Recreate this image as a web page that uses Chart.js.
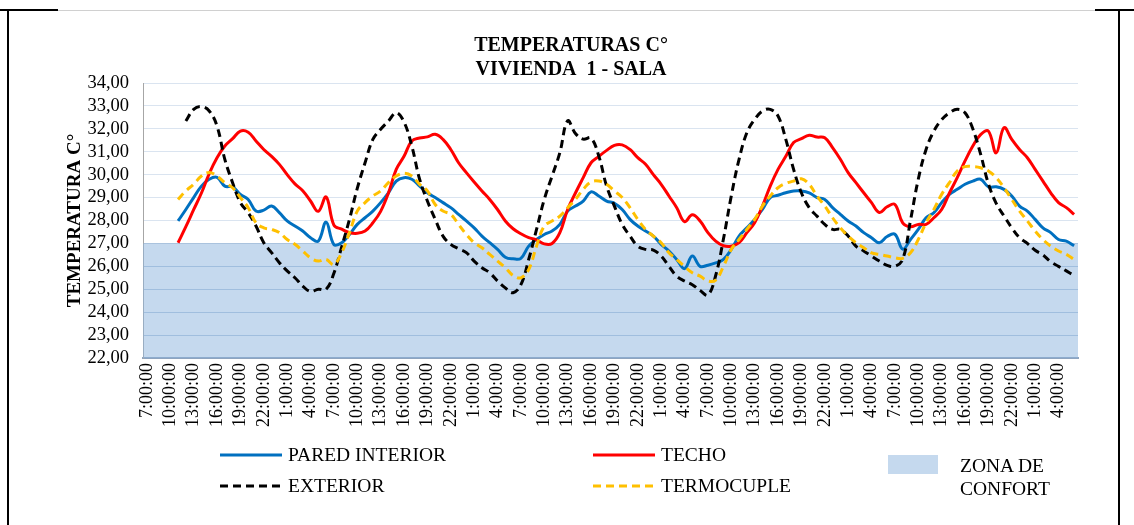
<!DOCTYPE html>
<html lang="es">
<head>
<meta charset="utf-8">
<title>Temperaturas C° - Vivienda 1 - Sala</title>
<script src="https://cdn.jsdelivr.net/npm/chart.js@4.4.1/dist/chart.umd.min.js"></script>
<style>
  html, body { margin: 0; padding: 0; background: #fff; }
  body { width: 1134px; height: 525px; position: relative; overflow: hidden;
         font-family: 'Liberation Serif', 'Times New Roman', serif; }
  #wrap { position: absolute; left: 0; top: 0; width: 1134px; height: 525px; }
  .frame { position: absolute; background: #000; }
  .item { position: absolute; display: flex; align-items: center; height: 24px;
          font-size: 19.5px; color: #000; white-space: nowrap; }
  .item canvas { margin-right: 6px; }
  .zona-box { position: absolute; width: 50px; height: 19px; }
  .zona-txt { position: absolute; width: 110px; font-size: 19.5px; line-height: 23px; color: #000; }
</style>
</head>
<body>
<!-- table border around the chart picture -->
<div class="frame" style="left:0;top:9px;width:58px;height:2px"></div>
<div class="frame" style="left:1095px;top:9px;width:39px;height:2px"></div>
<div class="frame" style="left:58px;top:10px;width:1037px;height:1px;background:#d0d0d0"></div>
<div class="frame" style="left:7px;top:9px;width:2px;height:516px"></div>
<div class="frame" style="left:1118px;top:9px;width:2px;height:516px"></div>

<div id="wrap"><canvas id="chart" width="1134" height="525"></canvas></div>
<div id="legend"></div>

<script>
// hourly readings, 7:00 day 1 to 6:00 day 6
const horas = ['7:00:00','8:00:00','9:00:00','10:00:00','11:00:00','12:00:00','13:00:00','14:00:00',
  '15:00:00','16:00:00','17:00:00','18:00:00','19:00:00','20:00:00','21:00:00','22:00:00',
  '23:00:00','0:00:00','1:00:00','2:00:00','3:00:00','4:00:00','5:00:00','6:00:00'];
const dias = 5;
const categorias = [];
for (let d = 0; d < dias; d++) horas.forEach(h => categorias.push(h));

const paredInterior = [null, null, null, null,
  27.98, 28.48, 29.00, 29.50, 29.80, 29.88, 29.50, 29.47, 29.14, 28.92, 28.41, 28.45, 28.63, 28.34, 27.98, 27.76,
  27.54, 27.25, 27.10, 27.93, 26.95, 27.03, 27.39, 27.83, 28.12, 28.41, 28.78, 29.21, 29.72, 29.87, 29.80, 29.50,
  29.21, 29.00, 28.78, 28.56, 28.27, 27.98, 27.68, 27.32, 27.03, 26.74, 26.40, 26.33, 26.35, 26.88, 27.17, 27.39,
  27.54, 27.83, 28.41, 28.63, 28.85, 29.25, 29.07, 28.85, 28.75, 28.48, 28.05, 27.76, 27.54, 27.32, 26.96, 26.67,
  26.30, 25.90, 26.45, 26.00, 26.05, 26.15, 26.30, 26.74, 27.32, 27.68, 28.05, 28.48, 29.00, 29.10, 29.21, 29.29,
  29.29, 29.21, 29.00, 28.92, 28.56, 28.27, 27.98, 27.76, 27.47, 27.25, 27.03, 27.30, 27.40, 26.75, 27.17, 27.61,
  28.12, 28.34, 28.78, 29.14, 29.36, 29.58, 29.72, 29.80, 29.47, 29.47, 29.36, 29.07, 28.63, 28.41, 28.05, 27.68,
  27.47, 27.17, 27.10, 26.90];

const techo = [null, null, null, null,
  27.03, 27.73, 28.47, 29.20, 30.05, 30.74, 31.25, 31.57, 31.90, 31.85, 31.47, 31.10, 30.80, 30.45, 30.00, 29.60,
  29.30, 28.85, 28.40, 29.03, 27.80, 27.62, 27.47, 27.44, 27.54, 27.90, 28.40, 29.20, 30.23, 30.80, 31.47, 31.60,
  31.65, 31.76, 31.54, 31.10, 30.52, 30.09, 29.68, 29.29, 28.92, 28.48, 27.98, 27.64, 27.42, 27.25, 27.15, 26.98,
  27.00, 27.47, 28.48, 29.20, 29.87, 30.52, 30.80, 31.06, 31.28, 31.30, 31.10, 30.74, 30.45, 30.00, 29.58, 29.07,
  28.56, 27.95, 28.25, 27.98, 27.47, 27.10, 26.90, 26.88, 27.03, 27.47, 27.90, 28.63, 29.50, 30.23, 30.80, 31.40,
  31.57, 31.72, 31.64, 31.61, 31.18, 30.67, 30.09, 29.65, 29.21, 28.78, 28.35, 28.60, 28.70, 27.90, 27.73, 27.83,
  27.83, 28.12, 28.48, 29.20, 29.87, 30.60, 31.25, 31.75, 31.90, 30.95, 32.05, 31.54, 31.10, 30.74, 30.23, 29.72,
  29.21, 28.78, 28.56, 28.27];

const exterior = [null, null, null, null, null,
  32.34, 32.85, 32.97, 32.78, 32.12, 30.67, 29.65, 28.78, 28.34, 27.76, 27.03, 26.60, 26.16, 25.80, 25.50,
  25.14, 24.90, 25.00, 25.00, 25.70, 26.85, 28.05, 29.40, 30.52, 31.54, 31.98, 32.34, 32.70, 32.30, 31.25,
  29.80, 28.85, 28.05, 27.32, 26.96, 26.77, 26.60, 26.23, 25.94, 25.72, 25.36, 25.06, 24.85, 25.20, 26.30,
  27.60, 28.92, 29.94, 30.96, 32.35, 31.80, 31.55, 31.60, 30.81, 29.50, 28.63, 27.83, 27.32, 26.88, 26.74,
  26.71, 26.45, 26.00, 25.57, 25.36, 25.20, 24.95, 24.75, 25.60, 27.20, 29.07, 30.67, 31.83, 32.41, 32.78,
  32.85, 32.56, 31.54, 30.23, 29.21, 28.56, 28.19, 27.83, 27.61, 27.61, 27.32, 26.88, 26.67, 26.45, 26.23,
  26.04, 26.00, 26.30, 28.00, 29.80, 31.10, 31.90, 32.40, 32.70, 32.85, 32.70, 32.00, 30.90, 29.60, 28.75,
  28.20, 27.68, 27.25, 27.00, 26.70, 26.50, 26.20, 26.00, 25.80, 25.60];

const termocuple = [null, null, null, null,
  28.92, 29.29, 29.58, 29.94, 30.09, 29.94, 29.65, 29.43, 29.00, 28.56, 27.90, 27.68, 27.61, 27.47, 27.17, 26.96,
  26.67, 26.37, 26.23, 26.30, 26.08, 26.60, 27.47, 28.41, 28.78, 29.07, 29.29, 29.65, 29.94, 30.06, 29.94, 29.58,
  29.29, 28.70, 28.41, 28.27, 27.83, 27.39, 27.03, 26.81, 26.52, 26.23, 25.94, 25.60, 25.50, 25.86, 26.88, 27.76,
  27.98, 28.19, 28.56, 28.92, 29.36, 29.68, 29.72, 29.58, 29.29, 29.00, 28.56, 28.05, 27.61, 27.32, 27.03, 26.59,
  26.30, 26.00, 25.72, 25.57, 25.36, 25.40, 26.00, 26.74, 27.17, 27.61, 28.05, 28.63, 29.07, 29.43, 29.62, 29.72,
  29.82, 29.58, 29.07, 28.63, 28.12, 27.68, 27.32, 27.03, 26.81, 26.59, 26.52, 26.45, 26.37, 26.35, 26.59, 27.17,
  27.90, 28.48, 29.14, 29.65, 30.16, 30.35, 30.35, 30.30, 30.16, 29.87, 29.43, 28.92, 28.41, 27.98, 27.54, 27.17,
  26.88, 26.67, 26.52, 26.30];

// comfort band: up to 27 °C, across the whole period
const zonaConfort = [27, 27];

const fuente = "'Liberation Serif', 'Times New Roman', serif";
const zonaColor = 'rgba(139, 179, 221, 0.5)';

const ctx = document.getElementById('chart').getContext('2d');
const chart = new Chart(ctx, {
    data: {
        labels: categorias,
        datasets: [
            { type: 'line', label: 'PARED INTERIOR', data: paredInterior, borderColor: '#0070c0',
              borderWidth: 3, pointRadius: 0, tension: 0.4, order: 4 },
            { type: 'line', label: 'TECHO', data: techo, borderColor: '#ff0000',
              borderWidth: 3, pointRadius: 0, tension: 0.4, order: 3 },
            { type: 'line', label: 'EXTERIOR', data: exterior, borderColor: '#000000', borderDash: [8, 5],
              borderWidth: 3, pointRadius: 0, tension: 0.4, order: 2 },
            { type: 'line', label: 'TERMOCUPLE', data: termocuple, borderColor: '#ffc000', borderDash: [8, 5],
              borderWidth: 3, pointRadius: 0, tension: 0.4, order: 1 },
            { type: 'line', label: 'ZONA DE CONFORT', data: zonaConfort, xAxisID: 'xZona',
              backgroundColor: zonaColor, borderWidth: 0, pointRadius: 0, fill: 'start', order: 10 }
        ]
    },
    options: {
        responsive: false,
        animation: false,
        devicePixelRatio: 1,
        layout: { padding: { left: 64, right: 56, top: 34, bottom: 67 } },
        plugins: {
            legend: { display: false },
            tooltip: { enabled: false },
            title: {
                display: true,
                text: ['TEMPERATURAS C°', 'VIVIENDA  1 - SALA'],
                color: '#000',
                font: { family: fuente, size: 20, weight: 'bold', lineHeight: 1.2 },
                padding: { top: 0, bottom: 1 }
            }
        },
        scales: {
            x: {
                offset: true,
                grid: { display: false, drawTicks: false },
                border: { display: true, color: '#8ea4bf', width: 2 },
                ticks: {
                    autoSkip: false, maxRotation: 90, minRotation: 90, padding: 5,
                    color: '#000', font: { family: fuente, size: 18 },
                    callback: function(v, i) { return i % 3 === 0 ? this.getLabelForValue(v) : ''; }
                },
                afterFit: function(s) { s.height = 100; }
            },
            xZona: {
                type: 'category', labels: ['ini', 'fin'], offset: false, display: false
            },
            y: {
                min: 22, max: 34,
                ticks: {
                    stepSize: 1, autoSkip: false, padding: 14, color: '#000',
                    font: { family: fuente, size: 18.5 },
                    callback: v => v.toFixed(2).replace('.', ',')
                },
                grid: {
                    drawTicks: false,
                    color: c => (c.tick && c.tick.value <= 27) ? '#b5c9df' : '#dae4f0'
                },
                border: { color: '#a6a6a6', width: 1 },
                title: {
                    display: true, text: 'TEMPERATURA C°', color: '#000',
                    font: { family: fuente, size: 19, weight: 'bold' }, padding: 0
                },
                afterFit: function(s) { s.width = 79; }
            }
        }
    }
});

// legend laid out in columns like the original
const posLeyenda = {
    'PARED INTERIOR': [220, 455],
    'TECHO': [593, 455],
    'EXTERIOR': [220, 486],
    'TERMOCUPLE': [593, 486],
    'ZONA DE CONFORT': [888, 455]
};
const legend = document.getElementById('legend');
chart.data.datasets.forEach(ds => {
    const p = posLeyenda[ds.label];
    if (!p) return;
    if (ds.fill) {
        const box = document.createElement('div');
        box.className = 'zona-box';
        box.style.left = p[0] + 'px';
        box.style.top = p[1] + 'px';
        box.style.background = ds.backgroundColor;
        legend.appendChild(box);
        const txt = document.createElement('div');
        txt.className = 'zona-txt';
        txt.style.left = (p[0] + 72) + 'px';
        txt.style.top = (p[1] - 1) + 'px';
        txt.textContent = ds.label;
        legend.appendChild(txt);
        return;
    }
    const item = document.createElement('div');
    item.className = 'item';
    item.style.left = p[0] + 'px';
    item.style.top = (p[1] - 12) + 'px';
    const c = document.createElement('canvas');
    c.width = 62; c.height = 6;
    const g = c.getContext('2d');
    g.strokeStyle = ds.borderColor;
    g.lineWidth = 3;
    g.setLineDash(ds.borderDash || []);
    g.beginPath(); g.moveTo(0, 3); g.lineTo(62, 3); g.stroke();
    item.appendChild(c);
    const span = document.createElement('span');
    span.textContent = ds.label;
    item.appendChild(span);
    legend.appendChild(item);
});
</script>
</body>
</html>
